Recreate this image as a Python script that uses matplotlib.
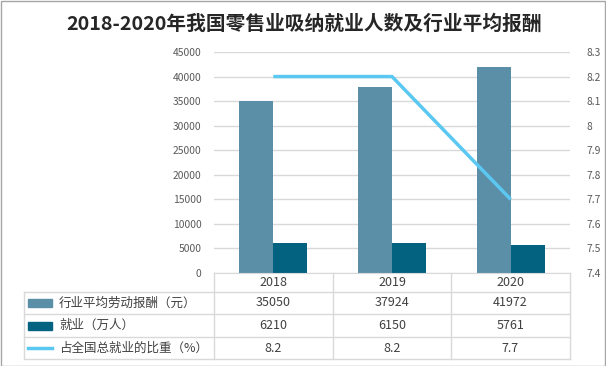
import matplotlib.pyplot as plt
from matplotlib.lines import Line2D
from matplotlib.patches import Rectangle

plt.rcParams['font.family'] = ['Noto Sans CJK SC', 'DejaVu Sans']

# data
years = ['2018', '2019', '2020']
pay = [35050, 37924, 41972]          # 行业平均劳动报酬（元）
jobs = [6210, 6150, 5761]            # 就业（万人）
share = [8.2, 8.2, 7.7]              # 占全国总就业的比重（%）
series_names = ['行业平均劳动报酬（元）', '就业（万人）', '占全国总就业的比重（%）']
left_ticks = list(range(0, 45001, 5000))
right_ticks = [7.4, 7.5, 7.6, 7.7, 7.8, 7.9, 8.0, 8.1, 8.2, 8.3]

c_pay = '#5B8FA8'
c_jobs = '#03627F'
c_share = '#5BC8F2'
c_grid = '#D9D9D9'
c_text = '#595959'

W, H = 606, 366


def fx(x):
    return x / W


def fy(y):
    return 1 - y / H


fig = plt.figure(figsize=(W / 100, H / 100), dpi=100)

# plot area
L, R, T, B = 214, 570, 52, 273
ax = fig.add_axes([fx(L), fy(B), (R - L) / W, (B - T) / H])
x = list(range(len(years)))
bw = 0.287
ax.bar([i - bw / 2 for i in x], pay, width=bw, color=c_pay, zorder=2)
ax.bar([i + bw / 2 for i in x], jobs, width=bw, color=c_jobs, zorder=2)
ax.set_xlim(-0.5, len(years) - 0.5)
ax.set_ylim(0, 45000)
ax.set_yticks(left_ticks)
ax.set_yticklabels([str(t) for t in left_ticks])
ax.set_xticks([])
ax.yaxis.grid(True, color=c_grid, linewidth=1, zorder=0)
ax.tick_params(axis='y', length=0, pad=9, labelsize=7.4, labelcolor=c_text)
for s in ['top', 'right', 'left']:
    ax.spines[s].set_visible(False)
ax.spines['bottom'].set_color(c_grid)

ax2 = ax.twinx()
ax2.plot(x, share, color=c_share, linewidth=2.5, solid_capstyle='butt')
ax2.set_ylim(7.4, 8.3)
ax2.set_yticks(right_ticks)
ax2.set_yticklabels([('%g' % t) for t in right_ticks])
ax2.tick_params(axis='y', length=0, pad=12, labelsize=7.4, labelcolor=c_text)
for s in ['top', 'right', 'left', 'bottom']:
    ax2.spines[s].set_visible(False)

# title
fig.text(fx(304), fy(24), '2018-2020年我国零售业吸纳就业人数及行业平均报酬',
         ha='center', va='center', fontsize=14.2, fontweight='bold', color='#262626')

# data table under the axes
col_edges = [214, 333, 451, 570]
row_edges = [273, 292, 314, 337, 359]
tbl_left = 24


def hline(y, x0, x1):
    fig.add_artist(Line2D([fx(x0), fx(x1)], [fy(y), fy(y)], color=c_grid, linewidth=1))


def vline(xp, y0, y1):
    fig.add_artist(Line2D([fx(xp), fx(xp)], [fy(y0), fy(y1)], color=c_grid, linewidth=1))


for y in row_edges[1:]:
    hline(y, tbl_left, col_edges[-1])
for xp in col_edges:
    vline(xp, row_edges[0], row_edges[-1])
vline(tbl_left, row_edges[1], row_edges[-1])

col_centers = [(col_edges[i] + col_edges[i + 1]) / 2 for i in range(len(years))]
row_centers = [(row_edges[i] + row_edges[i + 1]) / 2 for i in range(len(row_edges) - 1)]

tfs = 9
for cx, yr in zip(col_centers, years):
    fig.text(fx(cx), fy(row_centers[0]), yr, ha='center', va='center', fontsize=tfs, color='#404040')

rows = [[str(v) for v in pay], [str(v) for v in jobs], [('%g' % v) for v in share]]
for r, (name, vals) in enumerate(zip(series_names, rows)):
    cy = row_centers[r + 1]
    fig.text(fx(59), fy(cy), name, ha='left', va='center', fontsize=tfs, color='#404040')
    for cx, v in zip(col_centers, vals):
        fig.text(fx(cx), fy(cy), v, ha='center', va='center', fontsize=tfs, color='#404040')

# legend keys in the table
fig.add_artist(Rectangle((fx(28), fy(row_centers[1] + 4)), 24 / W, 8 / H, color=c_pay))
fig.add_artist(Rectangle((fx(28), fy(row_centers[2] + 4)), 24 / W, 8 / H, color=c_jobs))
fig.add_artist(Line2D([fx(28), fx(52)], [fy(row_centers[3]), fy(row_centers[3])],
                      color=c_share, linewidth=2.5))

# outer frame
fig.add_artist(Rectangle((0.5 / W, 0.5 / H), 1 - 1.5 / W, 1 - 1.5 / H, fill=False,
                         edgecolor='#A6A6A6', linewidth=1))

fig.savefig('out.png', dpi=100)
